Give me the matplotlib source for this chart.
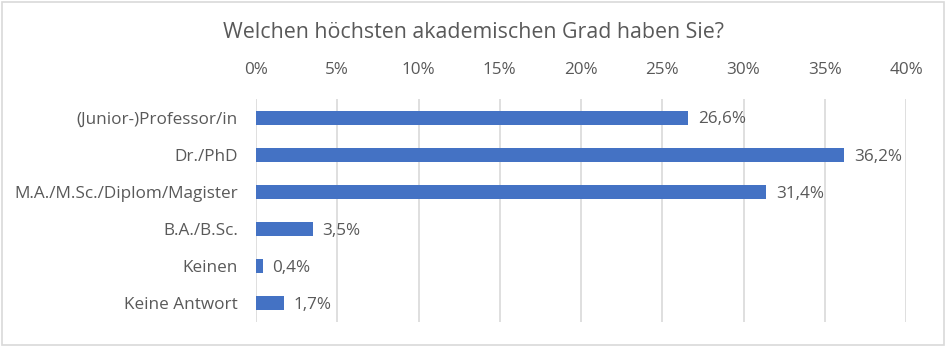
import matplotlib.pyplot as plt
from matplotlib.patches import Rectangle
from matplotlib.ticker import FuncFormatter

categories = ["(Junior-)Professor/in", "Dr./PhD", "M.A./M.Sc./Diplom/Magister",
              "B.A./B.Sc.", "Keinen", "Keine Antwort"]
values = [26.6, 36.2, 31.4, 3.5, 0.4, 1.7]
ticks = [0, 5, 10, 15, 20, 25, 30, 35, 40]

plt.rcParams['font.family'] = ['Open Sans', 'DejaVu Sans']
grey = '#595959'

fig = plt.figure(figsize=(9.47, 3.46), dpi=100)
ax = fig.add_axes([256 / 947, 24 / 346, 650 / 947, 223 / 346])

ypos = list(range(len(categories)))
ax.barh(ypos, values, height=0.38, color='#4472C4', zorder=3)
for y, v in zip(ypos, values):
    ax.text(v + 0.6, y + 0.05, f"{v:.1f}%".replace('.', ','), va='center', ha='left',
            fontsize=12.3, color=grey)

ax.set_ylim(len(categories) - 0.5, -0.5)
ax.set_xlim(0, 40)
ax.set_yticks(ypos)
ax.set_yticklabels(categories, fontsize=12.3, color=grey)
ax.set_xticks(ticks)
ax.xaxis.set_major_formatter(FuncFormatter(lambda x, p: f"{x:.0f}%"))
ax.xaxis.tick_top()
ax.tick_params(axis='x', labelsize=12.3, labelcolor=grey, length=0, pad=15)
ax.tick_params(axis='y', length=0, pad=13)
ax.grid(axis='x', color='#D9D9D9', linewidth=1.2, zorder=0)
for s in ax.spines.values():
    s.set_visible(False)

fig.text(0.5, 1 - 33 / 346, "Welchen höchsten akademischen Grad haben Sie?",
         ha='center', va='center', fontsize=15.4, color=grey)
fig.patches.append(Rectangle((0.002, 0.004), 0.995, 0.99, transform=fig.transFigure,
                             fill=False, edgecolor='#D9D9D9', linewidth=1.2))

fig.savefig('out.png', dpi=100)
